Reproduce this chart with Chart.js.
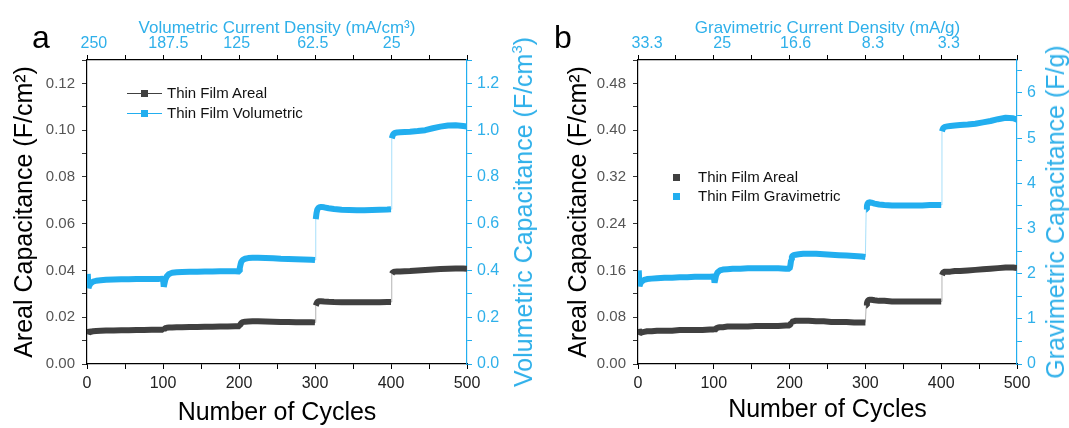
<!DOCTYPE html>
<html>
<head>
<meta charset="utf-8">
<script src="https://cdn.jsdelivr.net/npm/chart.js@4.4.1/dist/chart.umd.min.js"></script>
<style>
  body { margin: 0; background: #fff; font-family: "Liberation Sans", Arial, sans-serif; }
  #wrap { position: relative; width: 1069px; height: 428px; overflow: hidden; }
  canvas { position: absolute; top: 0; }
  .letter { position: absolute; font-size: 32px; line-height: 32px; color: #000; }
  .rtitle { position: absolute; font-size: 25px; line-height: 28px; color: #2fb0ea; white-space: nowrap;
            transform: translate(-50%, -50%) rotate(-90deg); }
  .rtitle sup { font-size: 15px; vertical-align: 10px; line-height: 0; }
  .leg { position: absolute; font-size: 15px; line-height: 18px; color: #111; white-space: nowrap; }
  .ln { position: absolute; height: 1px; }
  .sq { position: absolute; width: 7px; height: 7px; }
</style>
</head>
<body>
<div id="wrap">
  <canvas id="chartA" width="540" height="428" style="left:0"></canvas>
  <canvas id="chartB" width="529" height="428" style="left:540px"></canvas>

  <div class="letter" style="left:32px; top:21px">a</div>
  <div class="letter" style="left:554px; top:21px">b</div>

  <div class="rtitle" style="left:523px; top:212px">Volumetric Capacitance (F/cm<sup>3</sup>)</div>
  <div class="rtitle" style="left:1055px; top:212px">Gravimetric Capacitance (F/g)</div>

  <!-- legende a -->
  <div class="ln" style="left:127px; top:93px; width:35px; background:#404040"></div>
  <div class="sq" style="left:141px; top:90px; background:#404040"></div>
  <div class="leg" style="left:167px; top:84px">Thin Film Areal</div>
  <div class="ln" style="left:127px; top:113px; width:35px; background:#22aeef"></div>
  <div class="sq" style="left:141px; top:110px; background:#22aeef"></div>
  <div class="leg" style="left:167px; top:104px">Thin Film Volumetric</div>

  <!-- legende b -->
  <div class="sq" style="left:673px; top:174px; background:#404040"></div>
  <div class="leg" style="left:698px; top:168px">Thin Film Areal</div>
  <div class="sq" style="left:673px; top:193px; background:#22aeef"></div>
  <div class="leg" style="left:698px; top:187px">Thin Film Gravimetric</div>
</div>

<script>
// cycles communs aux deux panneaux
const cycles = [
  1, 2, 3, 5, 8, 12, 18, 25, 35, 45, 55, 65, 75, 85, 95, 100,
  101, 102, 103, 105, 108, 112, 118, 125, 135, 145, 155, 165, 175, 185, 195, 200,
  201, 202, 203, 205, 208, 212, 218, 225, 235, 245, 255, 265, 275, 285, 295, 300,
  301, 302, 303, 305, 308, 312, 318, 325, 335, 345, 355, 365, 375, 385, 395, 400,
  401, 402, 403, 405, 408, 412, 418, 425, 435, 445, 455, 465, 475, 485, 495, 500
];

// panneau a
const arealA = [
  0.0150, 0.0132, 0.0135, 0.0138, 0.0140, 0.0141, 0.0142, 0.0143, 0.0143, 0.0144, 0.0144, 0.0145, 0.0145, 0.0146, 0.0146, 0.0147,
  0.0146, 0.0150, 0.0153, 0.0155, 0.0156, 0.0156, 0.0157, 0.0157, 0.0158, 0.0158, 0.0159, 0.0159, 0.0160, 0.0160, 0.0161, 0.0161,
  0.0165, 0.0170, 0.0175, 0.0179, 0.0181, 0.0182, 0.0183, 0.0183, 0.0182, 0.0181, 0.0180, 0.0180, 0.0179, 0.0179, 0.0179, 0.0178,
  0.0250, 0.0258, 0.0265, 0.0268, 0.0268, 0.0267, 0.0266, 0.0265, 0.0264, 0.0264, 0.0264, 0.0264, 0.0264, 0.0264, 0.0265, 0.0265,
  0.0385, 0.0390, 0.0393, 0.0395, 0.0396, 0.0396, 0.0397, 0.0398, 0.0400, 0.0402, 0.0404, 0.0406, 0.0407, 0.0408, 0.0408, 0.0407
];
const volumetricA = [
  0.385, 0.325, 0.335, 0.345, 0.352, 0.356, 0.358, 0.360, 0.361, 0.362, 0.362, 0.363, 0.363, 0.364, 0.364, 0.365,
  0.330, 0.345, 0.360, 0.375, 0.385, 0.390, 0.392, 0.393, 0.394, 0.395, 0.396, 0.396, 0.397, 0.397, 0.397, 0.396,
  0.410, 0.425, 0.437, 0.445, 0.450, 0.453, 0.454, 0.454, 0.453, 0.452, 0.450, 0.449, 0.448, 0.447, 0.446, 0.445,
  0.620, 0.645, 0.660, 0.670, 0.672, 0.670, 0.666, 0.663, 0.660, 0.659, 0.658, 0.658, 0.659, 0.660, 0.661, 0.662,
  0.965, 0.975, 0.983, 0.988, 0.990, 0.991, 0.992, 0.993, 0.996, 1.000, 1.008, 1.015, 1.020, 1.021, 1.018, 1.016
];
const topPosA = [9, 107, 197, 297, 401];
const topLabelsA = ['250', '187.5', '125', '62.5', '25'];

// panneau b
const arealB = [
  0.060, 0.052, 0.053, 0.054, 0.055, 0.056, 0.056, 0.057, 0.057, 0.057, 0.058, 0.058, 0.058, 0.058, 0.059, 0.059,
  0.057, 0.059, 0.061, 0.062, 0.063, 0.063, 0.064, 0.064, 0.064, 0.064, 0.065, 0.065, 0.065, 0.065, 0.066, 0.066,
  0.068, 0.070, 0.072, 0.073, 0.074, 0.074, 0.074, 0.074, 0.073, 0.073, 0.072, 0.072, 0.072, 0.071, 0.071, 0.071,
  0.100, 0.104, 0.108, 0.110, 0.110, 0.109, 0.108, 0.108, 0.107, 0.107, 0.107, 0.107, 0.107, 0.107, 0.107, 0.107,
  0.152, 0.155, 0.157, 0.158, 0.158, 0.158, 0.159, 0.159, 0.160, 0.161, 0.162, 0.163, 0.164, 0.165, 0.165, 0.164
];
const gravimetricB = [
  2.07, 1.72, 1.78, 1.83, 1.86, 1.88, 1.89, 1.90, 1.91, 1.91, 1.92, 1.92, 1.93, 1.93, 1.93, 1.94,
  1.80, 1.88, 1.96, 2.03, 2.07, 2.09, 2.10, 2.11, 2.11, 2.12, 2.12, 2.12, 2.12, 2.12, 2.11, 2.11,
  2.18, 2.30, 2.38, 2.41, 2.42, 2.43, 2.44, 2.44, 2.44, 2.43, 2.42, 2.41, 2.40, 2.39, 2.38, 2.37,
  3.42, 3.50, 3.56, 3.58, 3.57, 3.55, 3.53, 3.52, 3.51, 3.51, 3.51, 3.51, 3.51, 3.52, 3.52, 3.52,
  5.15, 5.20, 5.23, 5.25, 5.26, 5.27, 5.28, 5.29, 5.30, 5.32, 5.35, 5.38, 5.42, 5.45, 5.44, 5.41
];
const topPosB = [12, 111, 208, 310, 410];
const topLabelsB = ['33.3', '25', '16.6', '8.3', '3.3'];

const topMarks = [0, 50, 100, 150, 200, 250, 300, 350, 400, 450, 500];

const DARK = '#404040';
const BLUE = '#22aeef';
const BLUE_TXT = '#2fb0ea';

Chart.defaults.font.family = '"Liberation Sans", Arial, sans-serif';

// les sauts verticaux sont fins et pâles
function jumpSeg(threshold, color) {
  const isJump = ctx => ctx.p1.parsed.y - ctx.p0.parsed.y > threshold;
  return {
    borderWidth: ctx => (isJump(ctx) ? 1 : 6),
    borderColor: ctx => (isJump(ctx) ? color + '66' : color)
  };
}

function series(values, axis, color, threshold) {
  return {
    data: cycles.map((c, i) => ({ x: c, y: values[i] })),
    yAxisID: axis,
    borderColor: color,
    borderWidth: 6,
    borderJoinStyle: 'bevel',
    pointRadius: 0,
    tension: 0,
    segment: jumpSeg(threshold, color)
  };
}

function buildPanel(id, p) {
  // graduations du haut : repères réguliers + positions des étiquettes (sans doublons)
  const topTicks = Array.from(new Set(topMarks.concat(p.topPos))).sort((a, b) => a - b);
  return new Chart(document.getElementById(id).getContext('2d'), {
    type: 'line',
    data: {
      datasets: [
        series(p.left, 'y', DARK, p.leftMax * 0.04),
        series(p.right, 'y2', BLUE, p.rightMax * 0.04)
      ]
    },
    options: {
      responsive: false,
      animation: false,
      layout: { padding: 0, autoPadding: false },
      plugins: { legend: { display: false }, tooltip: { enabled: false } },
      scales: {
        x: {
          type: 'linear', position: 'bottom', min: 0, max: 500,
          ticks: {
            stepSize: 50, autoSkip: false, maxRotation: 0, padding: 5,
            color: '#222', font: { size: 16 },
            callback: v => (v % 100 === 0 ? v : '')
          },
          grid: { drawOnChartArea: false, color: '#000', tickLength: 5 },
          border: { color: '#000', width: 1.2 },
          title: { display: true, text: 'Number of Cycles', color: '#000', font: { size: 25 }, padding: { top: 0, bottom: p.bottomPad } },
          afterFit: s => { s.height = 64; }
        },
        x2: {
          type: 'linear', position: 'top', min: 0, max: 500,
          afterBuildTicks: s => { s.ticks = topTicks.map(v => ({ value: v })); },
          ticks: {
            autoSkip: false, maxRotation: 0, padding: 2,
            color: BLUE_TXT, font: { size: 16 },
            callback: v => { const i = p.topPos.indexOf(v); return i >= 0 ? p.topLabels[i] : ''; }
          },
          grid: {
            drawOnChartArea: false, tickLength: 5,
            color: c => (c.tick && topMarks.indexOf(c.tick.value) < 0 ? 'rgba(0,0,0,0)' : '#000')
          },
          border: { color: '#000', width: 1.2 },
          title: { display: true, text: p.topTitle, color: BLUE_TXT, font: { size: 17 }, padding: { top: 18, bottom: 0 } },
          afterFit: s => { s.height = 60; }
        },
        y: {
          type: 'linear', position: 'left', min: 0, max: p.leftMax,
          ticks: {
            stepSize: p.leftStep, maxTicksLimit: 100, includeBounds: false, padding: 7,
            color: '#555', font: { size: 15 },
            callback: p.leftLabel
          },
          grid: { drawOnChartArea: false, color: '#333', tickLength: 5 },
          border: { color: '#000', width: 1.2 },
          title: { display: true, text: 'Areal Capacitance (F/cm²)', color: '#000', font: { size: 25 }, padding: { top: p.leftTitlePad, bottom: 0 } },
          afterFit: s => { s.width = p.leftWidth; }
        },
        y2: {
          type: 'linear', position: 'right', min: 0, max: p.rightMax,
          ticks: {
            stepSize: p.rightStep, maxTicksLimit: 100, includeBounds: false, padding: 5,
            color: BLUE_TXT, font: { size: 16 },
            callback: p.rightLabel
          },
          grid: { drawOnChartArea: false, color: BLUE, tickLength: 5 },
          border: { color: BLUE, width: 1.2 },
          afterFit: s => { s.width = p.rightWidth; }
        }
      }
    }
  });
}

buildPanel('chartA', {
  left: arealA, right: volumetricA,
  leftMax: 0.13, leftStep: 0.01,
  leftLabel: v => (Math.round(v * 100) % 2 === 0 ? v.toFixed(2) : ''),
  rightMax: 1.3, rightStep: 0.1,
  rightLabel: v => (Math.round(v * 10) % 2 === 0 ? v.toFixed(1) : ''),
  topPos: topPosA, topLabels: topLabelsA,
  topTitle: 'Volumetric Current Density (mA/cm³)',
  leftWidth: 87, rightWidth: 73, leftTitlePad: 10, bottomPad: 0
});

buildPanel('chartB', {
  left: arealB, right: gravimetricB,
  leftMax: 0.52, leftStep: 0.04,
  leftLabel: v => (Math.round(v * 100) % 8 === 0 ? v.toFixed(2) : ''),
  rightMax: 6.73, rightStep: 0.5,
  rightLabel: v => (Math.round(v * 10) % 10 === 0 ? String(Math.round(v)) : ''),
  topPos: topPosB, topLabels: topLabelsB,
  topTitle: 'Gravimetric Current Density (mA/g)',
  leftWidth: 98, rightWidth: 52, leftTitlePad: 24, bottomPad: 3
});
</script>
</body>
</html>
